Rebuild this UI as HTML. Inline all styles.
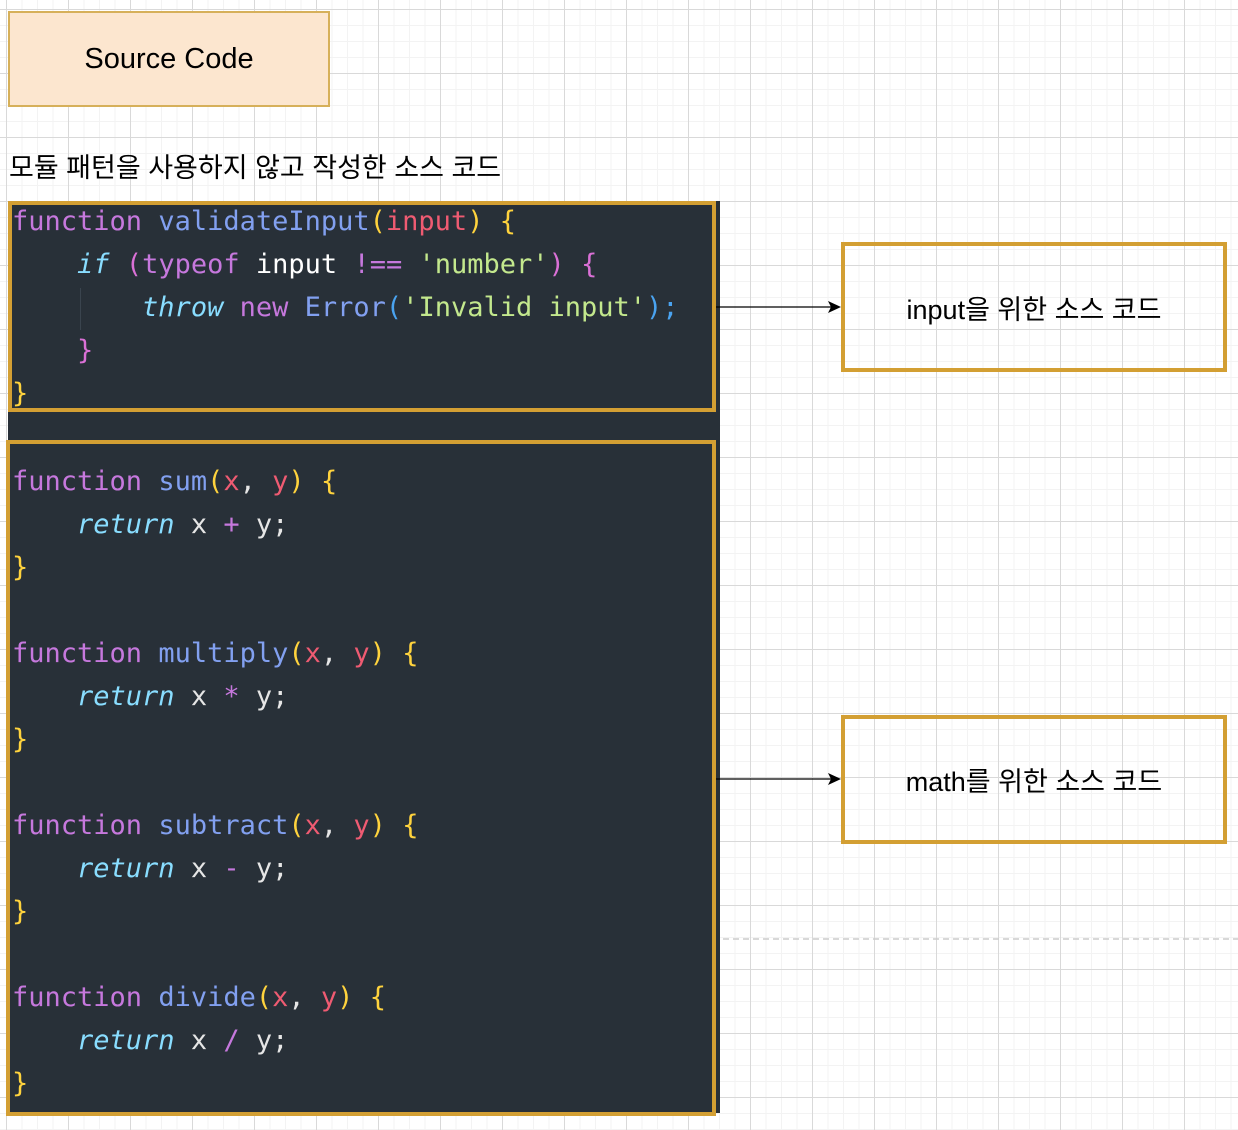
<!DOCTYPE html>
<html><head><meta charset="utf-8"><style>
body{margin:0;width:1238px;height:1130px;overflow:hidden;background:#fff;position:relative;font-family:"Liberation Sans","Noto Sans CJK KR",sans-serif;
background-image:linear-gradient(#d9d9d9 1px,transparent 1px),linear-gradient(90deg,#d9d9d9 1px,transparent 1px),linear-gradient(#f3f3f3 1px,transparent 1px),linear-gradient(90deg,#f3f3f3 1px,transparent 1px);
background-size:62px 64px,62px 64px,15.5px 16px,15.5px 16px;background-position:6px 9px,6px 9px,6px 9px,6px 9px;}
.abs{position:absolute;box-sizing:border-box}
.code{font-family:"DejaVu Sans Mono",monospace;font-size:27px;line-height:43px;white-space:pre;color:#e6e6e6;position:absolute;left:12px;}
.k{color:#c678dd}.f{color:#82a0f0}.p{color:#ef5b72}.y{color:#ffd33d}.i{color:#89ddff;font-style:italic}.s{color:#c3e88d}.b{color:#da70d6}.w{color:#fff}.c{color:#4aa3f0}
</style></head><body>
<div class="abs" style="left:8px;top:11px;width:322px;height:96px;background:#fce6cf;border:2px solid #d6b05a;display:flex;align-items:center;justify-content:center;font-size:29px;color:#000">Source Code</div>
<div class="abs" style="left:9px;top:146px;font-size:27px;color:#000;white-space:nowrap">모듈 패턴을 사용하지 않고 작성한 소스 코드</div>
<div class="abs" style="left:8px;top:201px;width:712px;height:912px;background:#283038;"></div>
<div class="abs" style="left:8px;top:201px;width:708px;height:211px;border:4px solid #d39f33"></div>
<div class="abs" style="left:6px;top:440px;width:710px;height:676px;border:4px solid #d39f33"></div>
<div class="abs" style="left:80px;top:288px;width:1px;height:42px;background:#3a444e"></div>
<div class="code" style="top:200px"><span class="k">function</span> <span class="f">validateInput</span><span class="y">(</span><span class="p">input</span><span class="y">)</span> <span class="y">{</span>
    <span class="i">if</span> <span class="b">(</span><span class="k">typeof</span> <span class="w">input</span> <span class="k">!==</span> <span class="s">'number'</span><span class="b">)</span> <span class="b">{</span>
        <span class="i">throw</span> <span class="k">new</span> <span class="f">Error</span><span class="c">(</span><span class="s">'Invalid input'</span><span class="c">);</span>
    <span class="b">}</span>
<span class="y">}</span></div>
<div class="code" style="top:460px"><span class="k">function</span> <span class="f">sum</span><span class="y">(</span><span class="p">x</span>, <span class="p">y</span><span class="y">)</span> <span class="y">{</span>
    <span class="i">return</span> x <span class="k">+</span> y;
<span class="y">}</span>

<span class="k">function</span> <span class="f">multiply</span><span class="y">(</span><span class="p">x</span>, <span class="p">y</span><span class="y">)</span> <span class="y">{</span>
    <span class="i">return</span> x <span class="k">*</span> y;
<span class="y">}</span>

<span class="k">function</span> <span class="f">subtract</span><span class="y">(</span><span class="p">x</span>, <span class="p">y</span><span class="y">)</span> <span class="y">{</span>
    <span class="i">return</span> x <span class="k">-</span> y;
<span class="y">}</span>

<span class="k">function</span> <span class="f">divide</span><span class="y">(</span><span class="p">x</span>, <span class="p">y</span><span class="y">)</span> <span class="y">{</span>
    <span class="i">return</span> x <span class="k">/</span> y;
<span class="y">}</span></div>
<div class="abs" style="left:841px;top:242px;width:386px;height:130px;border:4px solid #d39f33;display:flex;align-items:center;justify-content:center;font-size:27px;color:#000">input을 위한 소스 코드</div>
<div class="abs" style="left:841px;top:715px;width:386px;height:129px;border:4px solid #d39f33;display:flex;align-items:center;justify-content:center;font-size:27px;color:#000">math를 위한 소스 코드</div>
<svg class="abs" style="left:0;top:0" width="1238" height="1130">
<line x1="716" y1="307" x2="832" y2="307" stroke="#000" stroke-width="1.3"/>
<path d="M841 307 L828 301 L831 307 L828 313 Z" fill="#000"/>
<line x1="716" y1="779" x2="832" y2="779" stroke="#000" stroke-width="1.3"/>
<path d="M841 779 L828 773 L831 779 L828 785 Z" fill="#000"/>
<line x1="723" y1="939" x2="1238" y2="939" stroke="#ccc" stroke-width="1.5" stroke-dasharray="6,4"/>
</svg>
</body></html>
